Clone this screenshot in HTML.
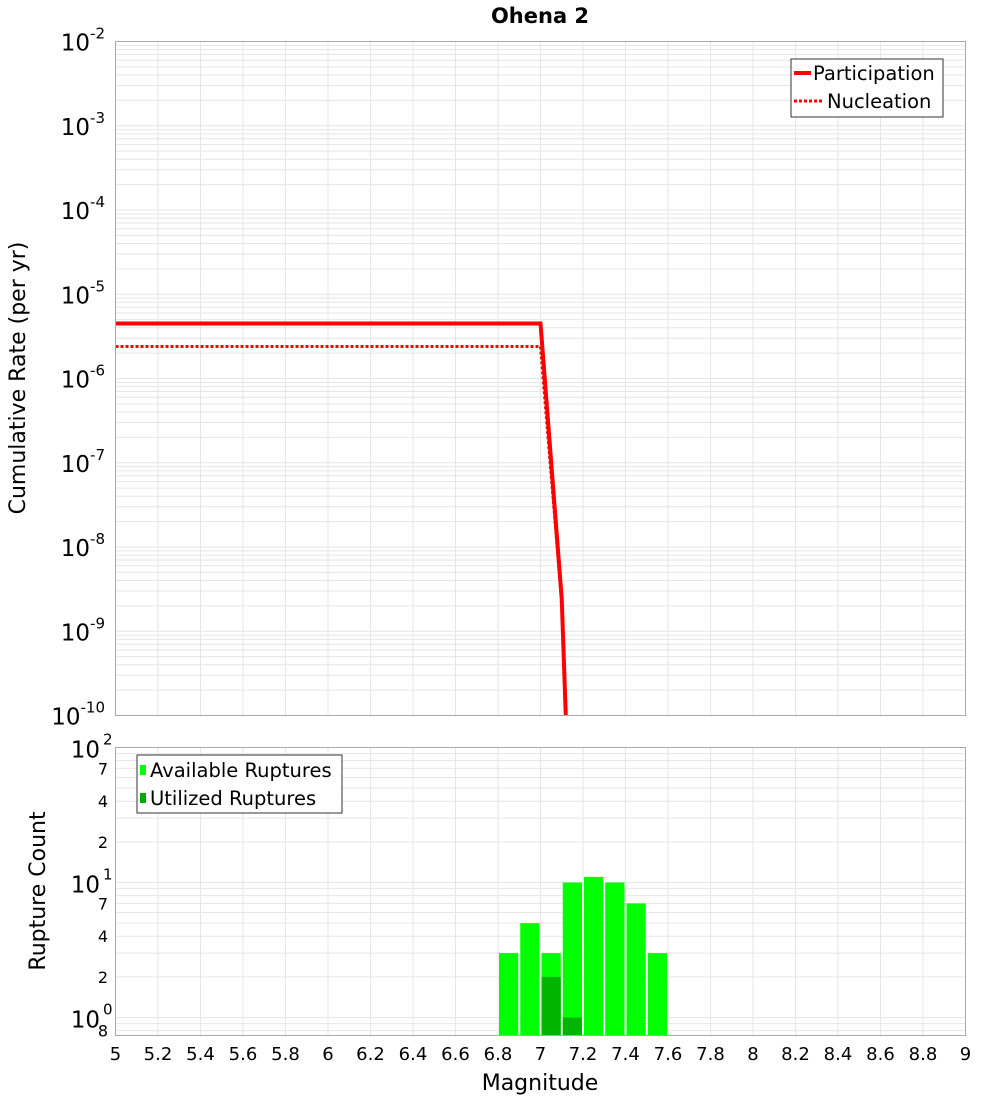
<!DOCTYPE html>
<html><head><meta charset="utf-8"><style>
body{margin:0;background:#fff;font-family:"DejaVu Sans","Liberation Sans",sans-serif}
svg text{font-family:"DejaVu Sans","Liberation Sans",sans-serif}
</style></head><body>
<svg id="c" width="1000" height="1100" xmlns="http://www.w3.org/2000/svg">
<text x="540" y="23" text-anchor="middle" font-size="21" font-weight="bold">Ohena 2</text>
<g id="gtop"></g>
<g id="gbot"></g>
<text transform="translate(25,378) rotate(-90)" text-anchor="middle" font-size="22">Cumulative Rate (per yr)</text>
<text transform="translate(45,891) rotate(-90)" text-anchor="middle" font-size="22">Rupture Count</text>
<text x="540" y="1090" text-anchor="middle" font-size="22">Magnitude</text>
<g id="legs"></g>
</svg>
<script>
const magPart=[5.0,7.0,7.1,7.2];
const ratePart=[4.5e-6,4.5e-6,2.4e-9,1.2e-16];
const magNuc=[5.0,7.0,7.1,7.2];
const rateNuc=[2.4e-6,2.4e-6,2.2e-9,1.1e-16];
const binCenters=[6.85,6.95,7.05,7.15,7.25,7.35,7.45,7.55];
const availCounts=[3,5,3,10,11,10,7,3];
const usedCounts=[0,0,2,1,0,0,0,0];
const xTicks=["5","5.2","5.4","5.6","5.8","6","6.2","6.4","6.6","6.8","7","7.2","7.4","7.6","7.8","8","8.2","8.4","8.6","8.8","9"];
const NS="http://www.w3.org/2000/svg";
const L=115.5,R=965.5;
const xs=m=>L+(m-5)/4*(R-L);
const T1=41.5,B1=715.5;
const y1=v=>T1+(-2-Math.log10(v))/8*(B1-T1);
const T2=747.5,B2=1035.5;
const y2=v=>747.5+(2-Math.log10(v))*135;
function mk(p,t,a){const e=document.createElementNS(NS,t);for(const k in a)e.setAttribute(k,a[k]);p.appendChild(e);return e;}
const gTop=document.getElementById('gtop'),gBot=document.getElementById('gbot'),svgEl=document.getElementById('c');
for(let d=-10;d<-2;d++)for(let k=1;k<10;k++){const y=y1(k*Math.pow(10,d));if(y<T1||y>B1)continue;
 const g=mk(gTop,'line',{x1:L,x2:R,y1:y,y2:y,stroke:'#e6e6e6','stroke-width':1});
 
 }
for(let i=0;i<=20;i++){const x=xs(5+i*0.2);mk(gTop,'line',{x1:x,x2:x,y1:T1,y2:B1,stroke:'#e6e6e6'});mk(gBot,'line',{x1:x,x2:x,y1:T2,y2:B2,stroke:'#e6e6e6'});}
for(let d=-10;d<=-2;d++){const y=y1(Math.pow(10,d));
 const t=mk(svgEl,'text',{x:105,y:y+9,'text-anchor':'end','font-size':23});
 
 
 t.textContent='10';const s=mk(t,'tspan',{dy:-12,'font-size':15});s.textContent=String(d);}
for(let d=-1;d<2;d++)for(let k=1;k<10;k++){const v=k*Math.pow(10,d);const y=y2(v);if(y<T2||y>B2)continue;
 const g=mk(gBot,'line',{x1:L,x2:R,y1:y,y2:y,stroke:'#e6e6e6'});
 
 }
const minorLab=[[0.8,"8"],[2,"2"],[4,"4"],[7,"7"],[20,"2"],[40,"4"],[70,"7"]];
minorLab.forEach(([v,s])=>{const t=mk(svgEl,'text',{x:108,y:y2(v)+6,'text-anchor':'end','font-size':16});t.textContent=s;
 
 });
[0,1,2].forEach(d=>{const t=mk(svgEl,'text',{x:100,y:y2(Math.pow(10,d))+10,'text-anchor':'end','font-size':23});t.textContent='10';
 
 
 const s=mk(svgEl,'text',{x:103,y:y2(Math.pow(10,d))-3,'font-size':15});s.textContent=String(d);});
const defs=mk(svgEl,'defs',{});const cp=mk(defs,'clipPath',{id:'cp1'});mk(cp,'rect',{x:L,y:T1,width:R-L,height:B1-T1});
function pl(ms,vs,dash,name){const p=mk(gTop,'polyline',{points:ms.map((m,i)=>xs(m)+','+y1(vs[i])).join(' '),fill:'none',stroke:'#f00','stroke-width':dash?3:4,'clip-path':'url(#cp1)'});
 if(dash)p.setAttribute('stroke-dasharray','3,2');
 
 }
pl(magNuc,rateNuc,true,'nucleation-line');pl(magPart,ratePart,false,'participation-line');
const bw=xs(5.1)-xs(5);
binCenters.forEach((c,i)=>{const x=xs(c)-bw/2+1;
 const b=mk(gBot,'rect',{x:x,y:y2(availCounts[i]),width:bw-2,height:B2-y2(availCounts[i]),fill:'#00ff00'});
 
 
 if(usedCounts[i]>0){const u=mk(gBot,'rect',{x:x,y:y2(usedCounts[i]),width:bw-2,height:B2-y2(usedCounts[i]),fill:'#00b400'});
 
 }});
mk(gTop,'rect',{x:L,y:T1,width:R-L,height:B1-T1,fill:'none',stroke:'#aaa'});
mk(gBot,'rect',{x:L,y:T2,width:R-L,height:B2-T2,fill:'none',stroke:'#aaa'});
xTicks.forEach((s,i)=>{const t=mk(svgEl,'text',{x:xs(5+i*0.2),y:1060,'text-anchor':'middle','font-size':18});t.textContent=s;
 
 });
// legends (drawn last so on top)
svgEl.insertAdjacentHTML('beforeend',
'<g><rect x="791" y="59" width="152" height="58" fill="#fff" stroke="#333"/><line x1="794" y1="73" x2="811" y2="73" stroke="#f00" stroke-width="4"/><text x="813" y="80" font-size="19.5">Participation</text><line x1="794" y1="101" x2="822" y2="101" stroke="#f00" stroke-width="3" stroke-dasharray="3,2"/><text x="827" y="108" font-size="19.5">Nucleation</text></g>'+
'<g><rect x="137" y="755" width="205" height="58" fill="#fff" stroke="#333"/><rect x="140" y="765" width="6" height="10" fill="#00ff00"/><text x="150" y="777" font-size="19.5">Available Ruptures</text><rect x="140" y="793" width="6" height="10" fill="#00aa00"/><text x="150" y="805" font-size="19.5">Utilized Ruptures</text></g>');
</script>
</body></html>
